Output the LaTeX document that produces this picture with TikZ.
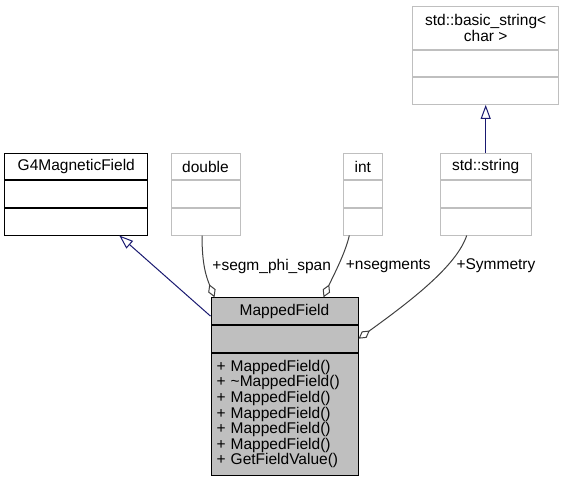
\documentclass[tikz,border=0pt]{standalone}
\usepackage{fontspec}
\setmainfont{Liberation Sans}
\usetikzlibrary{arrows.meta}
\usetikzlibrary{positioning}
\definecolor{edgeblue}{HTML}{191970}
\definecolor{edgegray}{HTML}{404040}
\definecolor{boxgray}{HTML}{BFBFBF}
\tikzset{
	classpart/.style={rectangle, draw, fill=white, line width=1pt, inner sep=0pt, minimum width=#1, minimum height=26.6pt, anchor=north},
	docpart/.style={classpart=#1, draw=black},
	undocpart/.style={classpart=#1, draw=boxgray},
	mainpart/.style={classpart=#1, draw=black, fill=boxgray},
	edgelabel/.style={inner sep=0pt},
	inherit/.style={draw=edgeblue, line width=1pt, -{Triangle[open, length=14pt, width=10pt]}},
	member/.style={draw=edgegray, line width=1pt, -{Diamond[open, length=14pt, width=8pt]}}
}
\begin{document}
\begin{tikzpicture}[x=1pt, y=-1pt, font=\fontsize{15.5pt}{15.6pt}\selectfont]
\useasboundingbox (0,0) rectangle (564,480);

% G4MagneticField
\node[docpart=142.7pt] (g4head) at (76.3,152.7) {G4MagneticField};
\node[docpart=142.7pt, below=0pt of g4head] (g4attr) {};
\node[docpart=142.7pt, below=0pt of g4attr] (g4ops) {};

% double
\node[undocpart=69pt] (dblhead) at (205.5,152.7) {double};
\node[undocpart=69pt, below=0pt of dblhead] (dblattr) {};
\node[undocpart=69pt, below=0pt of dblattr] (dblops) {};

% int
\node[undocpart=39pt] (inthead) at (362.8,152.7) {int};
\node[undocpart=39pt, below=0pt of inthead] (intattr) {};
\node[undocpart=39pt, below=0pt of intattr] (intops) {};

% std::string
\node[undocpart=90.7pt] (strhead) at (485.7,152.7) {std::string};
\node[undocpart=90.7pt, below=0pt of strhead] (strattr) {};
\node[undocpart=90.7pt, below=0pt of strattr] (strops) {};

% std::basic_string< char >
\node[undocpart=146pt, minimum height=42.7pt, align=center] (bshead) at (485.7,6)
	{std::basic\_string<\\char >};
\node[undocpart=146pt, below=0pt of bshead] (bsattr) {};
\node[undocpart=146pt, below=0pt of bsattr] (bsops) {};

% MappedField
\node[mainpart=147pt] (mfhead) at (284.5,297.3) {MappedField};
\node[mainpart=147pt, below=0pt of mfhead] (mfattr) {};
\node[mainpart=147pt, below=0pt of mfattr, minimum height=122.3pt, text width=136pt, inner xsep=5.5pt, align=left] (mfops)
	{+ MappedField()\\+ \textasciitilde MappedField()\\+ MappedField()\\+ MappedField()\\+ MappedField()\\+ MappedField()\\+ GetFieldValue()};

% labels
\node[edgelabel] (segmlbl) at (271.7,266.5) {+segm\_phi\_span};
\node[edgelabel] (nseglbl) at (388.3,266) {+nsegments};
\node[edgelabel] (symlbl) at (496,266) {+Symmetry};

\draw [inherit] ([yshift=-5pt]mfhead.west) -- ([xshift=43pt]g4ops.south);
\draw [inherit] (strhead.north) -- (bsops.south);
\draw [member] ([xshift=-3.5pt]dblops.south) .. controls +(0,30) and +(-8,-20) .. ([xshift=4pt]mfhead.north west);
\draw [member] ([xshift=-13.5pt]intops.south) .. controls +(-4,18) and +(9,-20) .. ([xshift=-35pt]mfhead.north east);
\draw [member] ([xshift=-19pt]strops.south) .. controls +(-10,30) and +(54,-39) .. (mfattr.east);

\end{tikzpicture}
\end{document}
